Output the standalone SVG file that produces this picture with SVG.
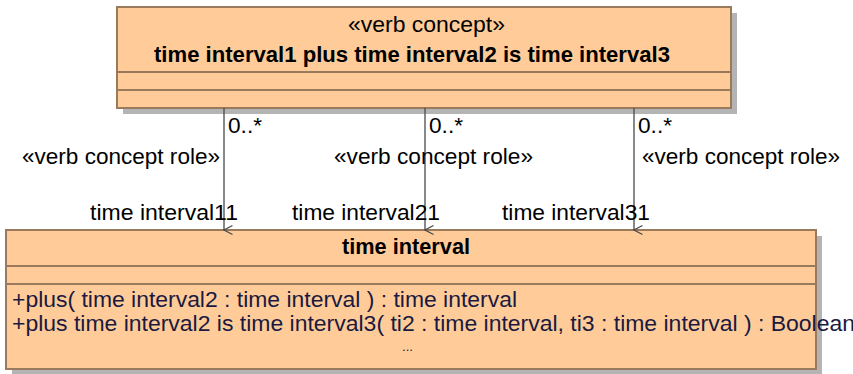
<svg xmlns="http://www.w3.org/2000/svg" width="853" height="374" viewBox="0 0 853 374">
<style>
.box{fill:#FFCC99;stroke:#9A7A5C;stroke-width:2}
.sep{stroke:#9A7A5C;stroke-width:2}
.shadow{fill:#B4B4B4}
.t{font-family:"Liberation Sans",Arial,sans-serif;font-size:22px;fill:#000}
.b{font-weight:bold}
.op{fill:#1A1A40}
.conn{stroke:#4A4A4A;stroke-width:1.3;fill:none}
</style>
<defs>
<marker id="open" markerWidth="12" markerHeight="12" refX="6" refY="10" orient="auto" markerUnits="userSpaceOnUse" viewBox="0 0 12 12">
<path d="M1.5,1.5 L6,10 L10.5,1.5" fill="none" stroke="#4A4A4A" stroke-width="1.3"/>
</marker>
</defs>
<rect width="853" height="374" fill="#fff"/>
<g id="verb-concept">
<rect class="shadow" x="123" y="13" width="614" height="101"/>
<rect class="box" x="117" y="7" width="614" height="101"/>
<line class="sep" x1="117" y1="72" x2="731" y2="72"/>
<line class="sep" x1="117" y1="90" x2="731" y2="90"/>
<text class="t" x="348" y="32" textLength="157" lengthAdjust="spacingAndGlyphs">«verb concept»</text>
<text class="t b" x="154" y="62" textLength="516" lengthAdjust="spacingAndGlyphs">time interval1  plus time interval2  is time interval3</text>
</g>
<g id="time-interval">
<rect class="shadow" x="12" y="236" width="810" height="138"/>
<rect class="box" x="6" y="230" width="810" height="139"/>
<line class="sep" x1="6" y1="266" x2="816" y2="266"/>
<line class="sep" x1="6" y1="284" x2="816" y2="284"/>
<text class="t b" x="342" y="254" textLength="128" lengthAdjust="spacingAndGlyphs">time interval</text>
<text class="t op" x="12" y="307" textLength="505" lengthAdjust="spacingAndGlyphs">+plus( time interval2 : time interval ) : time interval</text>
<text class="t op" x="12" y="331" textLength="843" lengthAdjust="spacingAndGlyphs">+plus time interval2 is time interval3( ti2 : time interval, ti3 : time interval ) : Boolean</text>
<text class="t op" x="402" y="351" style="font-size:13px" textLength="11" lengthAdjust="spacingAndGlyphs">...</text>
</g>
<g id="connectors">
<line class="conn" x1="224" y1="108" x2="224" y2="230" marker-end="url(#open)"/>
<line class="conn" x1="425" y1="108" x2="425" y2="230" marker-end="url(#open)"/>
<line class="conn" x1="634" y1="108" x2="634" y2="230" marker-end="url(#open)"/>
<text class="t" x="228" y="133" textLength="34" lengthAdjust="spacingAndGlyphs">0..*</text>
<text class="t" x="429" y="133" textLength="34" lengthAdjust="spacingAndGlyphs">0..*</text>
<text class="t" x="638" y="133" textLength="34" lengthAdjust="spacingAndGlyphs">0..*</text>
<text class="t" x="22" y="164" textLength="198" lengthAdjust="spacingAndGlyphs">«verb concept role»</text>
<text class="t" x="334" y="164" textLength="199" lengthAdjust="spacingAndGlyphs">«verb concept role»</text>
<text class="t" x="642" y="164" textLength="198" lengthAdjust="spacingAndGlyphs">«verb concept role»</text>
<text class="t" x="90" y="220" textLength="148" lengthAdjust="spacingAndGlyphs">time interval11</text>
<text class="t" x="292" y="220" textLength="148" lengthAdjust="spacingAndGlyphs">time interval21</text>
<text class="t" x="502" y="220" textLength="148" lengthAdjust="spacingAndGlyphs">time interval31</text>
</g>
</svg>
